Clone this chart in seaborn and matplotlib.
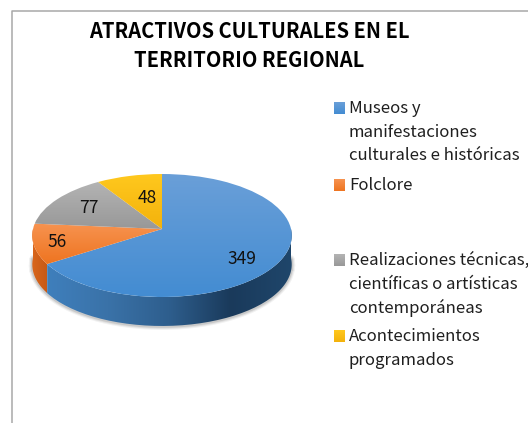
# Atractivos culturales en el territorio regional: tilted 3D-look pie

import numpy as np
import matplotlib.pyplot as plt
from matplotlib.colors import LinearSegmentedColormap
from matplotlib.patches import PathPatch
from matplotlib.path import Path
import seaborn as sns

categories = [
    "Museos y\nmanifestaciones\nculturales e históricas",
    "Folclore",
    "Realizaciones técnicas,\ncientíficas o artísticas\ncontemporáneas",
    "Acontecimientos\nprogramados",
]
values = [349, 56, 77, 48]
title_lines = "ATRACTIVOS CULTURALES EN EL\nTERRITORIO REGIONAL"

# top-face gradients (top to bottom) for each slice
face_colors = [("#6a9fd8", "#438cd2"), ("#f79350", "#ee7420"), ("#b4b4b4", "#989898"), ("#ffc81e", "#f3b20c")]
wall_colors = {0: ["#3f7fbc", "#3a72a8", "#2e5e8d", "#1a3a5b", "#1f466b"], 1: ["#d9661c", "#c75a17"]}

# layout in pixels
W, H = 528, 423
CX, CY, RX = 162, 229, 129
TILT, SQUASH, DEPTH = 0.1057, 60.8, 29
label_xy = [(242, 259), (57, 242), (89, 208), (147, 198)]
legend_y = [108, 185, 260, 336]
LINE_PX = 23.7

sns.set_theme(style="white")
plt.rcParams["font.family"] = ["Noto Sans CJK SC", "DejaVu Sans"]


def project(xy):
    # unit circle -> slightly perspective ellipse around the pie apex
    x, y = xy[:, 0], xy[:, 1]
    w = 1 + TILT * y
    return np.column_stack([CX + RX * x / w, CY - SQUASH * y / w])


def gradient_fill(ax, path, cols, zorder, horizontal=False):
    patch = PathPatch(path, fc="none", ec="none", zorder=zorder)
    ax.add_patch(patch)
    x0, y0, x1, y1 = path.get_extents().extents
    ramp = np.linspace(0, 1, 256)
    ramp = ramp[None, :] if horizontal else ramp[:, None]
    cmap = LinearSegmentedColormap.from_list("g", cols)
    img = ax.imshow(ramp, cmap=cmap, extent=(x0, x1, y1, y0), aspect="auto",
                    origin="upper", zorder=zorder, interpolation="bilinear")
    img.set_clip_path(patch)


fig = plt.figure(figsize=(W / 100, H / 100), dpi=100)
ax = fig.add_axes([0, 0, 1, 1])

wedges, _ = ax.pie(values, startangle=90, counterclock=False, radius=1)
ax.set_aspect("auto")

# side wall, front part only (lower half of the circle)
outline = []
for i, wedge in enumerate(wedges):
    t1, t2 = wedge.theta1 % 360, wedge.theta2 % 360
    if t2 <= t1:
        t2 += 360
    lo, hi = max(t1, 180), min(t2, 360)
    if hi <= lo:
        continue
    th = np.radians(np.linspace(lo, hi, 80))
    top = project(np.column_stack([np.cos(th), np.sin(th)]))
    low = top + [0, DEPTH]
    poly = np.vstack([top, low[::-1], top[:1]])
    outline.append(low)
    gradient_fill(ax, Path(poly), wall_colors[i], 2, horizontal=True)

# soft shadow along the bottom of the wall
rim = np.vstack(outline)
rim = rim[np.argsort(rim[:, 0])]
for lw, alpha in [(5, 0.05), (3.5, 0.07), (2, 0.1)]:
    ax.plot(rim[:, 0], rim[:, 1] + 0.5, color="black", lw=lw, alpha=alpha, zorder=1,
            solid_capstyle="round")

# top face
for wedge, cols in zip(wedges, face_colors):
    verts = wedge.get_patch_transform().transform(wedge.get_path().vertices)
    wedge.set_visible(False)
    path = Path(project(verts), wedge.get_path().codes)
    gradient_fill(ax, path, cols, 3)

for val, (x, y) in zip(values, label_xy):
    ax.text(x, y, str(val), ha="center", va="center", fontsize=12.5, color="#111111", zorder=5)

ax.text(249, 46, title_lines, ha="center", va="center", fontsize=14.45, fontweight="bold",
        color="black", linespacing=1.46)

# legend
for label, y, cols in zip(categories, legend_y, face_colors):
    gradient_fill(ax, Path([(334, y - 6), (345, y - 6), (345, y + 6), (334, y + 6), (334, y - 6)]), cols, 3)
    for k, line in enumerate(label.split("\n")):
        ax.text(348.8, y + k * LINE_PX + 0.6, line, ha="left", va="center", fontsize=12.05, color="#1f1f1f")

# chart frame: only top and left edges are visible
ax.plot([12, 12, W], [H, 11.5, 11.5], color="#a8a8a8", lw=1.1, zorder=0)

ax.set_xlim(0, W)
ax.set_ylim(H, 0)
ax.axis("off")

fig.savefig("out.png", dpi=100)
